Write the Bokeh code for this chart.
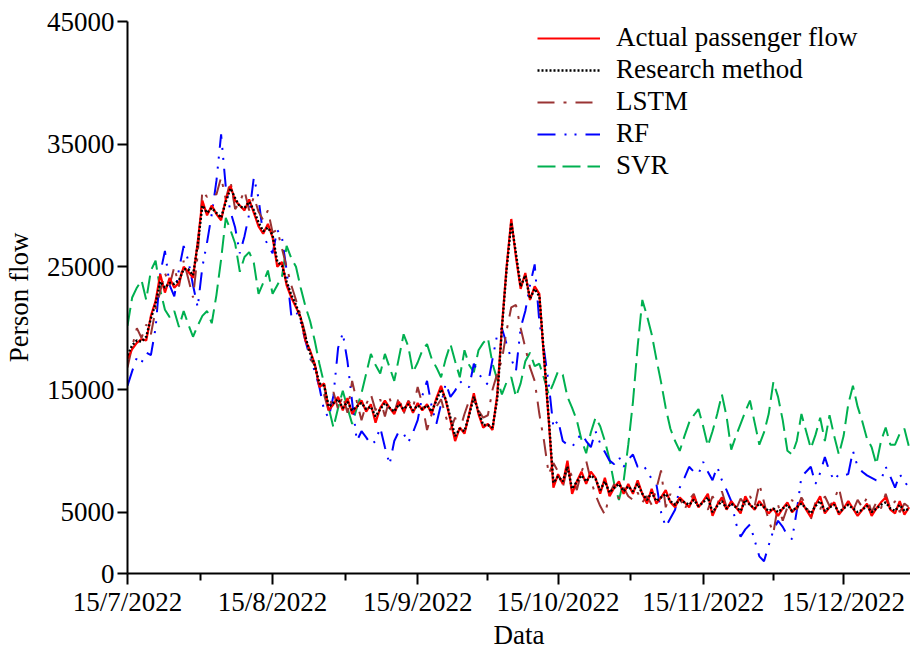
import numpy as np
import pandas as pd
from bokeh.plotting import figure
from bokeh.models import Range1d, FixedTicker, Legend, LegendItem
from bokeh.embed import file_html
from bokeh.resources import INLINE

# ---------------- data (daily, starting 15/7/2022) ----------------
start_date = "2022-07-15"

actual = [
    17500, 18300, 18800, 19100, 19000, 21000, 22200, 24400, 22900, 24100,
    23300, 23700, 25000, 24600, 24100, 27000, 30400, 29200, 30000, 29300,
    28800, 30500, 31600, 30400, 30000, 29600, 30500, 29400, 28300, 27700,
    28500, 27400, 25000, 25400, 23500, 22500, 21700, 20900, 19000, 18200,
    17100, 15200, 15500, 13300, 13800, 14400, 13300, 14300, 13000, 13600,
    14100, 13200, 13800, 12300, 13500, 14100, 13500, 13000, 14000, 13200,
    14000, 13100, 13900, 13300, 13800, 13000, 14300, 15300, 14100, 12500,
    10800, 11900, 11400, 13000, 14700, 13000, 11900, 12200, 11700, 14600,
    20100, 25000, 28900, 25800, 23200, 24500, 22300, 23400, 22800, 17500,
    12500, 7000, 8100, 7300, 9200, 6500, 7500, 8300, 7300, 8300,
    7800, 6500, 7800, 6300, 7000, 7500, 6500, 7300, 6500, 7600,
    6500, 5700, 6900, 5700, 6200, 6800, 5800, 5400, 6200, 5800,
    5400, 6300, 5400, 5900, 6500, 4700, 5600, 6200, 5200, 5900,
    5400, 4900, 6300, 5600, 5200, 5900, 5400, 4900, 5300, 4700,
    5300, 5800, 5000, 5400, 5900, 5200, 4600, 5600, 6300, 4900,
    5400, 5800, 4800, 5300, 5900, 5300, 4700, 5200, 5700, 4700,
    5300, 5800, 6200, 5200, 4900, 5900, 4800, 5400,
]

research = [
    17800, 18600, 19000, 18900, 19300, 20800, 22000, 23800, 23300, 23700,
    23600, 23900, 24800, 24800, 24300, 26800, 30000, 29400, 29800, 29400,
    29000, 30300, 31400, 30600, 29900, 29800, 30300, 29600, 28600, 27900,
    28200, 27600, 25400, 25100, 23800, 22700, 21900, 20800, 19300, 18000,
    17000, 15500, 15300, 13600, 13900, 14200, 13500, 14000, 13300, 13600,
    13900, 13400, 13600, 12800, 13400, 13900, 13500, 13200, 13800, 13400,
    13800, 13300, 13700, 13400, 13700, 13200, 14100, 15000, 14200, 12700,
    11200, 11800, 11600, 12900, 14400, 13200, 12100, 12100, 11900, 14200,
    20000, 24800, 28600, 26100, 23400, 24300, 22400, 23200, 22600, 17800,
    12700, 7400, 7900, 7500, 8700, 6900, 7500, 8000, 7500, 8000,
    7700, 6800, 7500, 6600, 7000, 7300, 6700, 7100, 6700, 7300,
    6500, 6000, 6600, 5900, 6200, 6500, 5900, 5600, 6000, 5800,
    5600, 6000, 5500, 5800, 6200, 5000, 5500, 5900, 5300, 5700,
    5400, 5100, 6000, 5600, 5300, 5700, 5400, 5100, 5300, 5000,
    5300, 5600, 5100, 5400, 5700, 5300, 4900, 5500, 5900, 5100,
    5400, 5600, 5000, 5300, 5600, 5300, 5000, 5200, 5500, 5000,
    5300, 5600, 5800, 5300, 5100, 5600, 5100, 5300,
]

lstm = [
    16800, 18500, 20000, 19200, 20300, 19500, 21500, 23000, 24500, 23500,
    25000, 23400, 25500, 24000, 22500, 26000, 31200, 30700, 31000, 30900,
    32300, 30500, 32000, 29700, 30300, 31200, 29600, 30700, 29500, 28800,
    29600, 27800, 28000, 26500, 25000, 23500, 22300, 21000, 19500, 17500,
    17000, 15400, 14600, 13200, 14800, 13400, 14500, 13100, 15700, 14000,
    12500, 13800, 14600, 13300, 14200, 12800, 14300, 13100, 14400, 13000,
    14100, 13500, 15200, 13800, 11700, 13000, 13600, 14200, 12800, 11700,
    12700, 11700, 13000, 14100, 14100, 13300, 12700, 12900, 15000, 16300,
    17400, 19800, 21700, 21900, 20000, 18400, 16800, 15700, 13000, 10800,
    8100, 9000, 8300, 7000, 8700, 7900, 6800, 8300, 9200, 7600,
    6400, 5500, 4800, 6500, 7300, 6100, 7000, 6300, 6000, 6600,
    5800, 6300, 5600, 6900, 8400, 5400, 6500, 5600, 6200, 5200,
    6000, 6500, 5300, 5900, 5200, 6300, 5600, 6700, 5400, 5900,
    5200, 6100, 5600, 6300, 5500, 7300, 5800, 4300, 3300, 5600,
    4300, 5400, 6000, 5200, 6200, 5600, 4400, 5800, 5200, 6300,
    5500, 6000, 7000, 5300, 5900, 5100, 6000, 5400, 6200, 5000,
    5800, 5300, 6500, 5300, 5900, 5000, 5700, 5400,
]

rf = [
    15300, 16500, 17600, 17200, 18000, 17800, 20000, 24500, 26300, 23500,
    22600, 24800, 26700, 25500, 23500, 21700, 25000, 27000, 29300, 32000,
    35800, 31500, 29500, 28200, 26100, 27500, 29300, 32300, 30600, 27500,
    26800, 26100, 28000, 27400, 24700, 21000, 21400, 20500, 19000, 17600,
    16500, 15200, 13300, 12700, 14500, 18400, 19600, 17300, 14000, 10800,
    11600, 11100, 10500, 10800, 11900, 10300, 8900, 10800, 11600, 11400,
    10700, 11500, 12500, 14500, 15700, 13600, 12200, 13800, 15500, 14400,
    14900, 15700, 15300, 15200, 17100, 16300, 15800, 15400, 17500, 19500,
    20000, 18700, 17500, 16500, 20000, 21400, 23500, 25200, 20500, 18200,
    15500, 11900, 12500, 10800, 10500, 10300, 10900, 11400, 10800, 10300,
    11600, 10600, 9900, 9200, 8900, 9500, 8700, 9300, 9700, 8700,
    8900, 8400, 7700, 7300, 5000, 3800, 4500, 5200, 7000, 7800,
    8700, 8300, 8100, 9100, 8300, 7600, 8700, 7600, 6800, 5900,
    4100, 3000, 3600, 4000, 2700, 1400, 1000, 2300, 3500, 4300,
    3800, 3100, 2800, 5100, 7900, 8300, 8700, 7300, 8200, 9500,
    8300, 7600, 8100, 8000, 8100, 10000, 8700, 8300, 8000, 7800,
    7600, 7600, 8700, 7900, 7000, 8100, 7500, 7000,
]

svr = [
    20200, 22500, 23300, 23900, 22300, 24700, 25500, 23100, 21500, 20900,
    21400, 20100, 21400, 20300, 19300, 20200, 21000, 21400, 20400, 22700,
    25600, 29000, 28000, 26900, 24600, 25800, 26200, 25300, 22800, 23700,
    24700, 22800, 23500, 24200, 26700, 25700, 25000, 23300, 21800, 20600,
    19000, 17100, 15500, 13500, 11900, 13500, 14900, 13500, 12200, 13500,
    14700, 16300, 17900, 17000, 16300, 17900, 16800, 15700, 17600, 19500,
    18500, 16400, 17200, 18200, 18700, 17500, 16800, 16000, 17500, 18700,
    17300, 16000, 18200, 17000, 16400, 18200, 18800, 19200, 17100, 15800,
    14600, 15600, 16000, 14400, 15500, 17300, 18000, 16900, 17100, 15900,
    14600, 15500, 16500, 16200, 14400, 13500, 12500, 10900, 9800, 11500,
    12700, 12000, 10800, 9300, 7300, 6000, 7500, 10500, 14000, 18500,
    22300, 21000, 19500, 17500, 15600, 13500, 11800, 10800, 10000, 11200,
    12300, 12900, 13400, 12000, 10400, 11600, 13000, 14600, 12800, 10100,
    11200, 12200, 13200, 14100, 12300, 10500, 11500, 13000, 15600, 14400,
    12500, 10000, 9700, 10800, 13000, 11600, 10200, 11300, 12700, 10800,
    12900, 11200, 9700, 11200, 13800, 15300, 13600, 12400, 11000, 10300,
    8900, 10800, 11900, 10500, 10500, 11400, 11800, 10300,
]

tick_dates = ["2022-07-15", "2022-08-15", "2022-09-15",
              "2022-10-15", "2022-11-15", "2022-12-15"]
y_ticks = [0, 5000, 15000, 25000, 35000, 45000]

series_names = ["Actual passenger flow", "Research method", "LSTM", "RF", "SVR"]

# ---------------- derived ----------------
start = pd.Timestamp(start_date)
days = np.arange(len(actual))
tick_ts = [pd.Timestamp(d) for d in tick_dates]
tick_pos = [(t - start).days for t in tick_ts]
tick_labels = [f"{t.day}/{t.month}/{t.year}" for t in tick_ts]
minor_pos = [(a + b) / 2 for a, b in zip(tick_pos[:-1], tick_pos[1:])]

FONT = "Liberation Serif"
FS = "27px"

p = figure(width=910, height=652, output_backend="svg", toolbar_location=None,
           x_range=Range1d(0, 167.3), y_range=Range1d(0, 45000),
           min_border_left=127, min_border_right=0, min_border_top=21,
           min_border_bottom=79)
p.outline_line_color = None
p.grid.visible = False
p.background_fill_color = "white"

r_svr = p.line(days, svr, line_color="#00B050", line_width=2, line_dash="18 7")
r_rf = p.line(days, rf, line_color="#0000FF", line_width=2, line_dash="18 9 2 8 2 9")
r_lstm = p.line(days, lstm, line_color="#993333", line_width=2, line_dash="17 9 3 9")
r_act = p.line(days, actual, line_color="#FF0000", line_width=2.2)
r_res = p.line(days, research, line_color="#000000", line_width=2.4, line_dash="2 2")

# axes
for ax in (p.xaxis[0], p.yaxis[0]):
    ax.axis_line_width = 2
    ax.axis_line_color = "black"
    ax.major_tick_line_width = 2
    ax.minor_tick_line_width = 2
    ax.major_tick_in = 0
    ax.minor_tick_in = 0
    ax.major_label_text_font = FONT
    ax.major_label_text_font_size = FS
    ax.major_label_text_color = "black"
    ax.axis_label_text_font = FONT
    ax.axis_label_text_font_size = FS
    ax.axis_label_text_font_style = "normal"
    ax.axis_label_text_color = "black"

p.xaxis.ticker = FixedTicker(ticks=tick_pos, minor_ticks=minor_pos)
p.xaxis.major_label_overrides = {pos: lab for pos, lab in zip(tick_pos, tick_labels)}
p.xaxis.major_tick_out = 11
p.xaxis.minor_tick_out = 7
p.xaxis.major_label_standoff = 2
p.xaxis.axis_label = "Data"
p.xaxis.axis_label_standoff = 0

p.yaxis.ticker = FixedTicker(ticks=y_ticks, minor_ticks=[])
p.yaxis.major_label_overrides = {v: str(v) for v in y_ticks}
p.yaxis.major_tick_out = 10
p.yaxis.minor_tick_out = 0
p.yaxis.major_label_standoff = 3
p.yaxis.axis_label = "Person flow"
p.yaxis.axis_label_standoff = 10

legend = Legend(
    items=[LegendItem(label=n, renderers=[r]) for n, r in
           zip(series_names, [r_act, r_res, r_lstm, r_rf, r_svr])],
    location=(410, 392),
    background_fill_alpha=0, border_line_color=None,
    padding=0, margin=0, spacing=1,
    glyph_width=63, glyph_height=30, label_height=30,
    label_standoff=16, label_text_font=FONT, label_text_font_size=FS,
    label_text_color="black",
)
p.add_layout(legend)

open("out.html", "w").write(file_html(p, INLINE))
